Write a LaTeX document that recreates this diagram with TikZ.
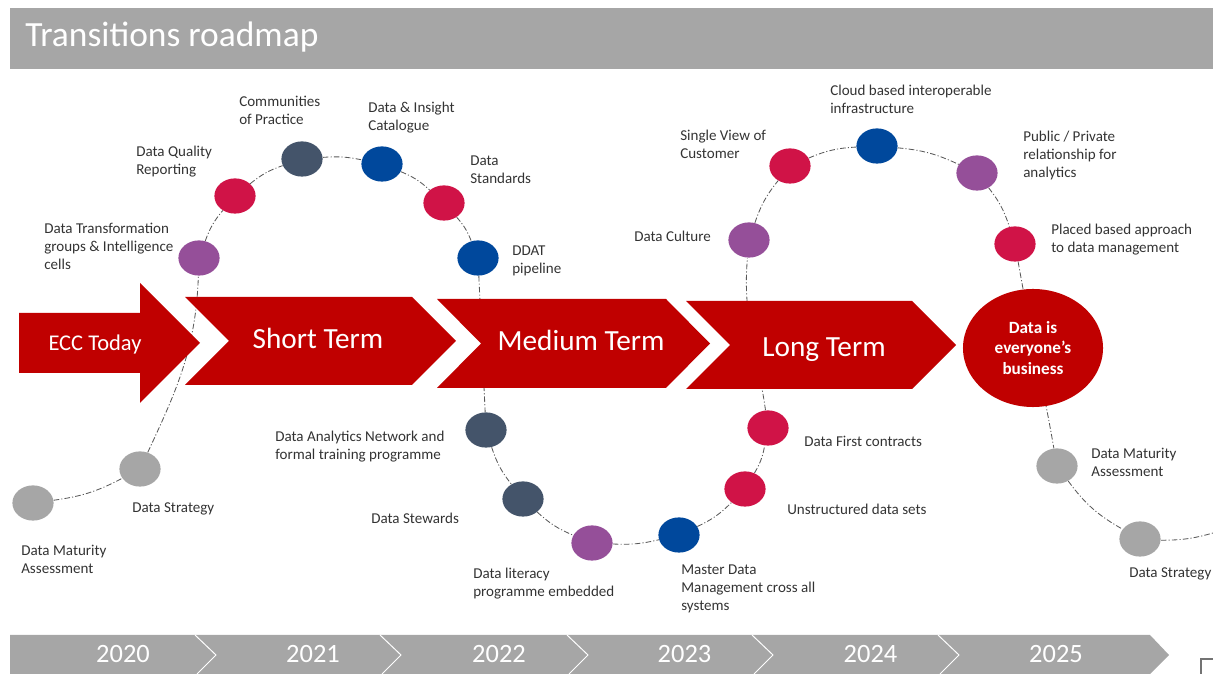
\documentclass[tikz,border=0pt]{standalone}
\usepackage{fontspec}
\setmainfont{Carlito}
\usepackage{xcolor}
\usepackage{tikz}
\usetikzlibrary{backgrounds}
\usetikzlibrary{shapes,positioning}

\definecolor{eccred}{HTML}{C00000}
\definecolor{bargray}{HTML}{A6A6A6}
\definecolor{dotgray}{HTML}{A6A6A6}
\definecolor{dotpurple}{HTML}{954F99}
\definecolor{dotcrimson}{HTML}{D01347}
\definecolor{dotslate}{HTML}{44546A}
\definecolor{dotblue}{HTML}{00489C}

\begin{document}
\begin{tikzpicture}[
        x=0.025cm, y=-0.025cm,
        blob/.style={ellipse, minimum width=1.03cm, minimum height=0.88cm, inner sep=0pt, fill=#1},
        lbl/.style={anchor=west, align=left, inner sep=0pt, yshift=-0.04cm, text=black!80, font=\fontsize{10.7}{12.8}\selectfont},
        link/.style={draw=black!65, line width=0.6pt, dash pattern=on 4pt off 1.5pt on 0.8pt off 1.5pt},
        term/.style={anchor=base, text=white, font=\fontsize{20.8}{25}\selectfont},
        year/.style={anchor=base, text=white, font=\fontsize{18.8}{22}\selectfont},
        yearsep/.style={draw=white, line width=0.7pt}
    ]
        \useasboundingbox (0,0) rectangle (1213,674);

        % Title bar
        \fill[bargray] (10,8) rectangle (1213,69);
        \node[anchor=base west, inner sep=0pt, text=white, font=\fontsize{25.2}{30}\selectfont] (title) at (25,47) {Transitions roadmap};

        % Big red arrows
        \fill[eccred] (19,313) -- (140,313) -- (140,283) -- (200,343) -- (140,403) -- (140,373) -- (19,373) -- cycle;
        \fill[eccred] (185,297) -- (412,297) -- (456,341) -- (412,385) -- (185,385) -- (229,341) -- cycle;
        \fill[eccred] (437,299) -- (666,299) -- (710,343.5) -- (666,388) -- (437,388) -- (481,343.5) -- cycle;
        \fill[eccred] (686,301) -- (912,301) -- (956,345) -- (912,389) -- (686,389) -- (730,345) -- cycle;
        \node[anchor=base, text=white, font=\fontsize{16}{19}\selectfont] (today) at (95,350.7) {ECC Today};
        \node[term] (short) at (318,349) {Short Term};
        \node[term] (medium) at (581,351) {Medium Term};
        \node[term] (long) at (824,356.5) {Long Term};

        \node[ellipse, fill=eccred, minimum width=3.5cm, minimum height=2.95cm, align=center, text=white,
              font=\bfseries\fontsize{12.2}{14.7}\selectfont] (goal) at (1033,348) {Data is\\everyone’s\\business};

        % Milestones
        \node[blob=dotgray] (dmaL) at (33,503) {};
        \node[blob=dotgray] (dstratL) at (140,469) {};
        \node[blob=dotpurple] (dtg) at (199,258) {};
        \node[blob=dotcrimson] (dqr) at (235,196) {};
        \node[blob=dotslate] (cop) at (302,159) {};
        \node[blob=dotblue] (dic) at (382,164) {};
        \node[blob=dotcrimson] (dstd) at (444,203) {};
        \node[blob=dotblue] (ddat) at (478,258) {};
        \node[blob=dotslate] (dan) at (486,430) {};
        \node[blob=dotslate] (dstw) at (523,499) {};
        \node[blob=dotpurple] (dlit) at (592,543) {};
        \node[blob=dotblue] (mdm) at (679,535) {};
        \node[blob=dotcrimson] (uds) at (745,489) {};
        \node[blob=dotcrimson] (dfc) at (768,428) {};
        \node[blob=dotpurple] (dcul) at (749,240) {};
        \node[blob=dotcrimson] (svc) at (790,166) {};
        \node[blob=dotblue] (cloud) at (877,146) {};
        \node[blob=dotpurple] (ppr) at (977,173) {};
        \node[blob=dotcrimson] (pba) at (1015,244) {};
        \node[blob=dotgray] (dmaR) at (1057,466) {};
        \node[blob=dotgray] (dstratR) at (1140,539) {};
        \coordinate (offpage) at (1213,533);

        % Milestone labels
        \node[lbl] (dmaL-t) at (21,558) {Data Maturity\\Assessment};
        \node[lbl] (dstratL-t) at (132,507) {Data Strategy};
        \node[lbl] (dtg-t) at (44,245) {Data Transformation\\groups \& Intelligence\\cells};
        \node[lbl] (dqr-t) at (136,160) {Data Quality\\Reporting};
        \node[lbl] (cop-t) at (239,109) {Communities\\of Practice};
        \node[lbl] (dic-t) at (368,116) {Data \& Insight\\Catalogue};
        \node[lbl] (dstd-t) at (470,168) {Data\\Standards};
        \node[lbl] (ddat-t) at (512,259) {DDAT\\pipeline};
        \node[lbl] (dan-t) at (275,445) {Data Analytics Network and\\formal training programme};
        \node[lbl] (dstw-t) at (371,517) {Data Stewards};
        \node[lbl] (dlit-t) at (473,582) {Data literacy\\programme embedded};
        \node[lbl] (mdm-t) at (681,587) {Master Data\\Management cross all\\systems};
        \node[lbl] (uds-t) at (787,508) {Unstructured data sets};
        \node[lbl] (dfc-t) at (804,440) {Data First contracts};
        \node[lbl] (dcul-t) at (634,235) {Data Culture};
        \node[lbl] (svc-t) at (680,143) {Single View of\\Customer};
        \node[lbl] (cloud-t) at (830,98) {Cloud based interoperable\\infrastructure};
        \node[lbl] (ppr-t) at (1023,154) {Public / Private\\relationship for\\analytics};
        \node[lbl] (pba-t) at (1051,238) {Placed based approach\\to data management};
        \node[lbl] (dmaR-t) at (1091,461) {Data Maturity\\Assessment};
        \node[lbl] (dstratR-t) at (1129,572) {Data Strategy};

        % Dash-dot path behind everything
        \begin{scope}[on background layer]
            \draw[link] (dmaL) to[bend right=10] (dstratL);
            \draw[link] (dstratL) to[out=65,in=-92] (dtg);
            \draw[link] (dtg) to[bend left=10] (dqr);
            \draw[link] (dqr) to[bend left=10] (cop);
            \draw[link] (cop) to[bend left=8] (dic);
            \draw[link] (dic) to[bend left=10] (dstd);
            \draw[link] (dstd) to[bend left=10] (ddat);
            \draw[link] (ddat) -- (dan);
            \draw[link] (dan) to[bend right=10] (dstw);
            \draw[link] (dstw) to[bend right=10] (dlit);
            \draw[link] (dlit) to[bend right=8] (mdm);
            \draw[link] (mdm) to[bend right=10] (uds);
            \draw[link] (uds) to[bend right=10] (dfc);
            \draw[link] (dfc) to[out=98,in=-95] (dcul);
            \draw[link] (dcul) to[bend left=10] (svc);
            \draw[link] (svc) to[bend left=10] (cloud);
            \draw[link] (cloud) to[bend left=10] (ppr);
            \draw[link] (ppr) to[bend left=10] (pba);
            \draw[link] (pba) to[out=-80,in=100] (dmaR);
            \draw[link] (dmaR) to[bend right=12] (dstratR);
            \draw[link] (dstratR) to[bend right=8] (offpage);
        \end{scope}

        % Year timeline
        \fill[bargray] (10,635) -- (1150,635) -- (1169,655) -- (1150,674) -- (10,674) -- cycle;
        \draw[yearsep] (195,635) -- (216,655) -- (197,674);
        \draw[yearsep] (380,635) -- (401,655) -- (382,674);
        \draw[yearsep] (567,635) -- (588,655) -- (569,674);
        \draw[yearsep] (752,635) -- (773,655) -- (754,674);
        \draw[yearsep] (938,635) -- (959,655) -- (940,674);
        \node[year] (y2020) at (123,663) {2020};
        \node[year] (y2021) at (313,663) {2021};
        \node[year] (y2022) at (499,663) {2022};
        \node[year] (y2023) at (684.5,663) {2023};
        \node[year] (y2024) at (870.5,663) {2024};
        \node[year] (y2025) at (1056,663) {2025};

        \draw[black!55, line width=0.8pt] (1201,674) |- (1213,659);
    \end{tikzpicture}
\end{document}
